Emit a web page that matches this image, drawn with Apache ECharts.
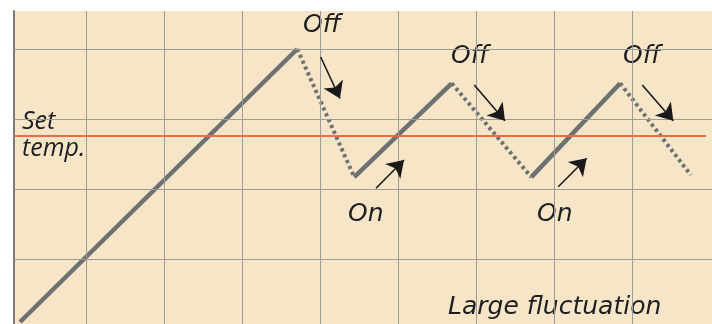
<!DOCTYPE html>
<html>
<head>
<meta charset="utf-8">
<script src="https://cdn.jsdelivr.net/npm/echarts@6/dist/echarts.min.js"></script>
<style>
  html, body { margin: 0; padding: 0; background: #fff; }
  #chart { width: 712px; height: 324px; }
</style>
</head>
<body>
<div id="chart"></div>
<script>
// grid units: one vertical cell = 1 on x, one horizontal cell = 1 on y
const vGrid = [1, 2, 3, 4, 5, 6, 7, 8]
const hGrid = [1, 2, 3, 4]

// temperature path: heating (solid) / cooling (dotted) turning points
const cycleX = [0.145, 3.70, 4.43, 5.68, 6.70, 7.84, 8.745]
const cycleTemp = [0.10, 4.0, 2.17, 3.51, 2.17, 3.51, 2.20]

const setTemp = 2.767
const setTempRange = [0.07, 8.94]

// annotation arrows [from, to]
const arrows = [
  [[4.00, 3.886], [4.247, 3.293]],
  [[5.969, 3.486], [6.363, 2.976]],
  [[8.123, 3.486], [8.521, 2.976]],
  [[4.709, 2.010], [5.068, 2.414]],
  [[7.046, 2.033], [7.410, 2.439]]
]

const GRAY = '#6e7171'
const chart = echarts.init(document.getElementById('chart'))

// split the path into segments, even = heating, odd = cooling
const segments = []
for (let i = 0; i < cycleX.length - 1; i++) {
  segments.push({
    heating: i % 2 === 0,
    data: [[cycleX[i], cycleTemp[i]], [cycleX[i + 1], cycleTemp[i + 1]]]
  })
}

const wide = 'oblique 25px "DejaVu Sans"'
const narrow = 'italic 25px "Open Sans"'
const txt = (text, x, y, font) => ({
  type: 'text', x, y, silent: true,
  style: { text, font: font || wide, fill: '#1e1e1e', textVerticalAlign: 'middle' }
})

const option = {
  backgroundColor: '#ffffff',
  animation: false,
  grid: {
    left: 14, right: 0, top: 11, bottom: 0,
    show: true, backgroundColor: '#f7e5c8', borderWidth: 0
  },
  xAxis: {
    type: 'value', min: 0.068, max: 9.017,
    axisLine: { show: false }, axisTick: { show: false },
    axisLabel: { show: false }, splitLine: { show: false }
  },
  yAxis: {
    type: 'value', min: 0.0714, max: 4.543,
    axisLine: { show: true, lineStyle: { color: '#7c7c7c', width: 2 } },
    axisTick: { show: false }, axisLabel: { show: false },
    splitLine: { show: false }
  },
  series: [
    {
      // grid lines and the set temp line
      type: 'line', data: [], silent: true,
      markLine: {
        silent: true, symbol: 'none', animation: false,
        label: { show: false },
        data: [
          ...vGrid.map(v => ({ xAxis: v, lineStyle: { color: '#9b9b9b', width: 1, type: 'solid' } })),
          ...hGrid.map(v => ({ yAxis: v, lineStyle: { color: '#9b9b9b', width: 1, type: 'solid' } })),
          [
            { coord: [setTempRange[0], setTemp], lineStyle: { color: '#ef6a47', width: 2.2, type: 'solid' } },
            { coord: [setTempRange[1], setTemp] }
          ]
        ]
      }
    },
    ...segments.map(s => ({
      type: 'line', data: s.data, symbol: 'none', silent: true,
      lineStyle: s.heating
        ? { color: GRAY, width: 4.5, cap: 'butt' }
        : { color: GRAY, width: 4, type: [3.2, 3.2], cap: 'butt' }
    })),
    {
      type: 'line', data: [], silent: true,
      markLine: {
        silent: true, animation: false,
        symbol: ['none', 'arrow'], symbolSize: 16,
        label: { show: false },
        lineStyle: { color: '#1a1a1a', width: 1.6, type: 'solid' },
        data: arrows.map(a => [{ coord: a[0] }, { coord: a[1] }])
      }
    }
  ],
  graphic: [
    txt('Off', 303, 25),
    txt('Off', 451, 56),
    txt('Off', 623, 56),
    txt('On', 348, 214),
    txt('On', 537, 214),
    txt('Set', 22, 122, narrow),
    txt('temp.', 22, 149, narrow),
    txt('Large fluctuation', 448, 307)
  ]
}

chart.setOption(option)
</script>
</body>
</html>
